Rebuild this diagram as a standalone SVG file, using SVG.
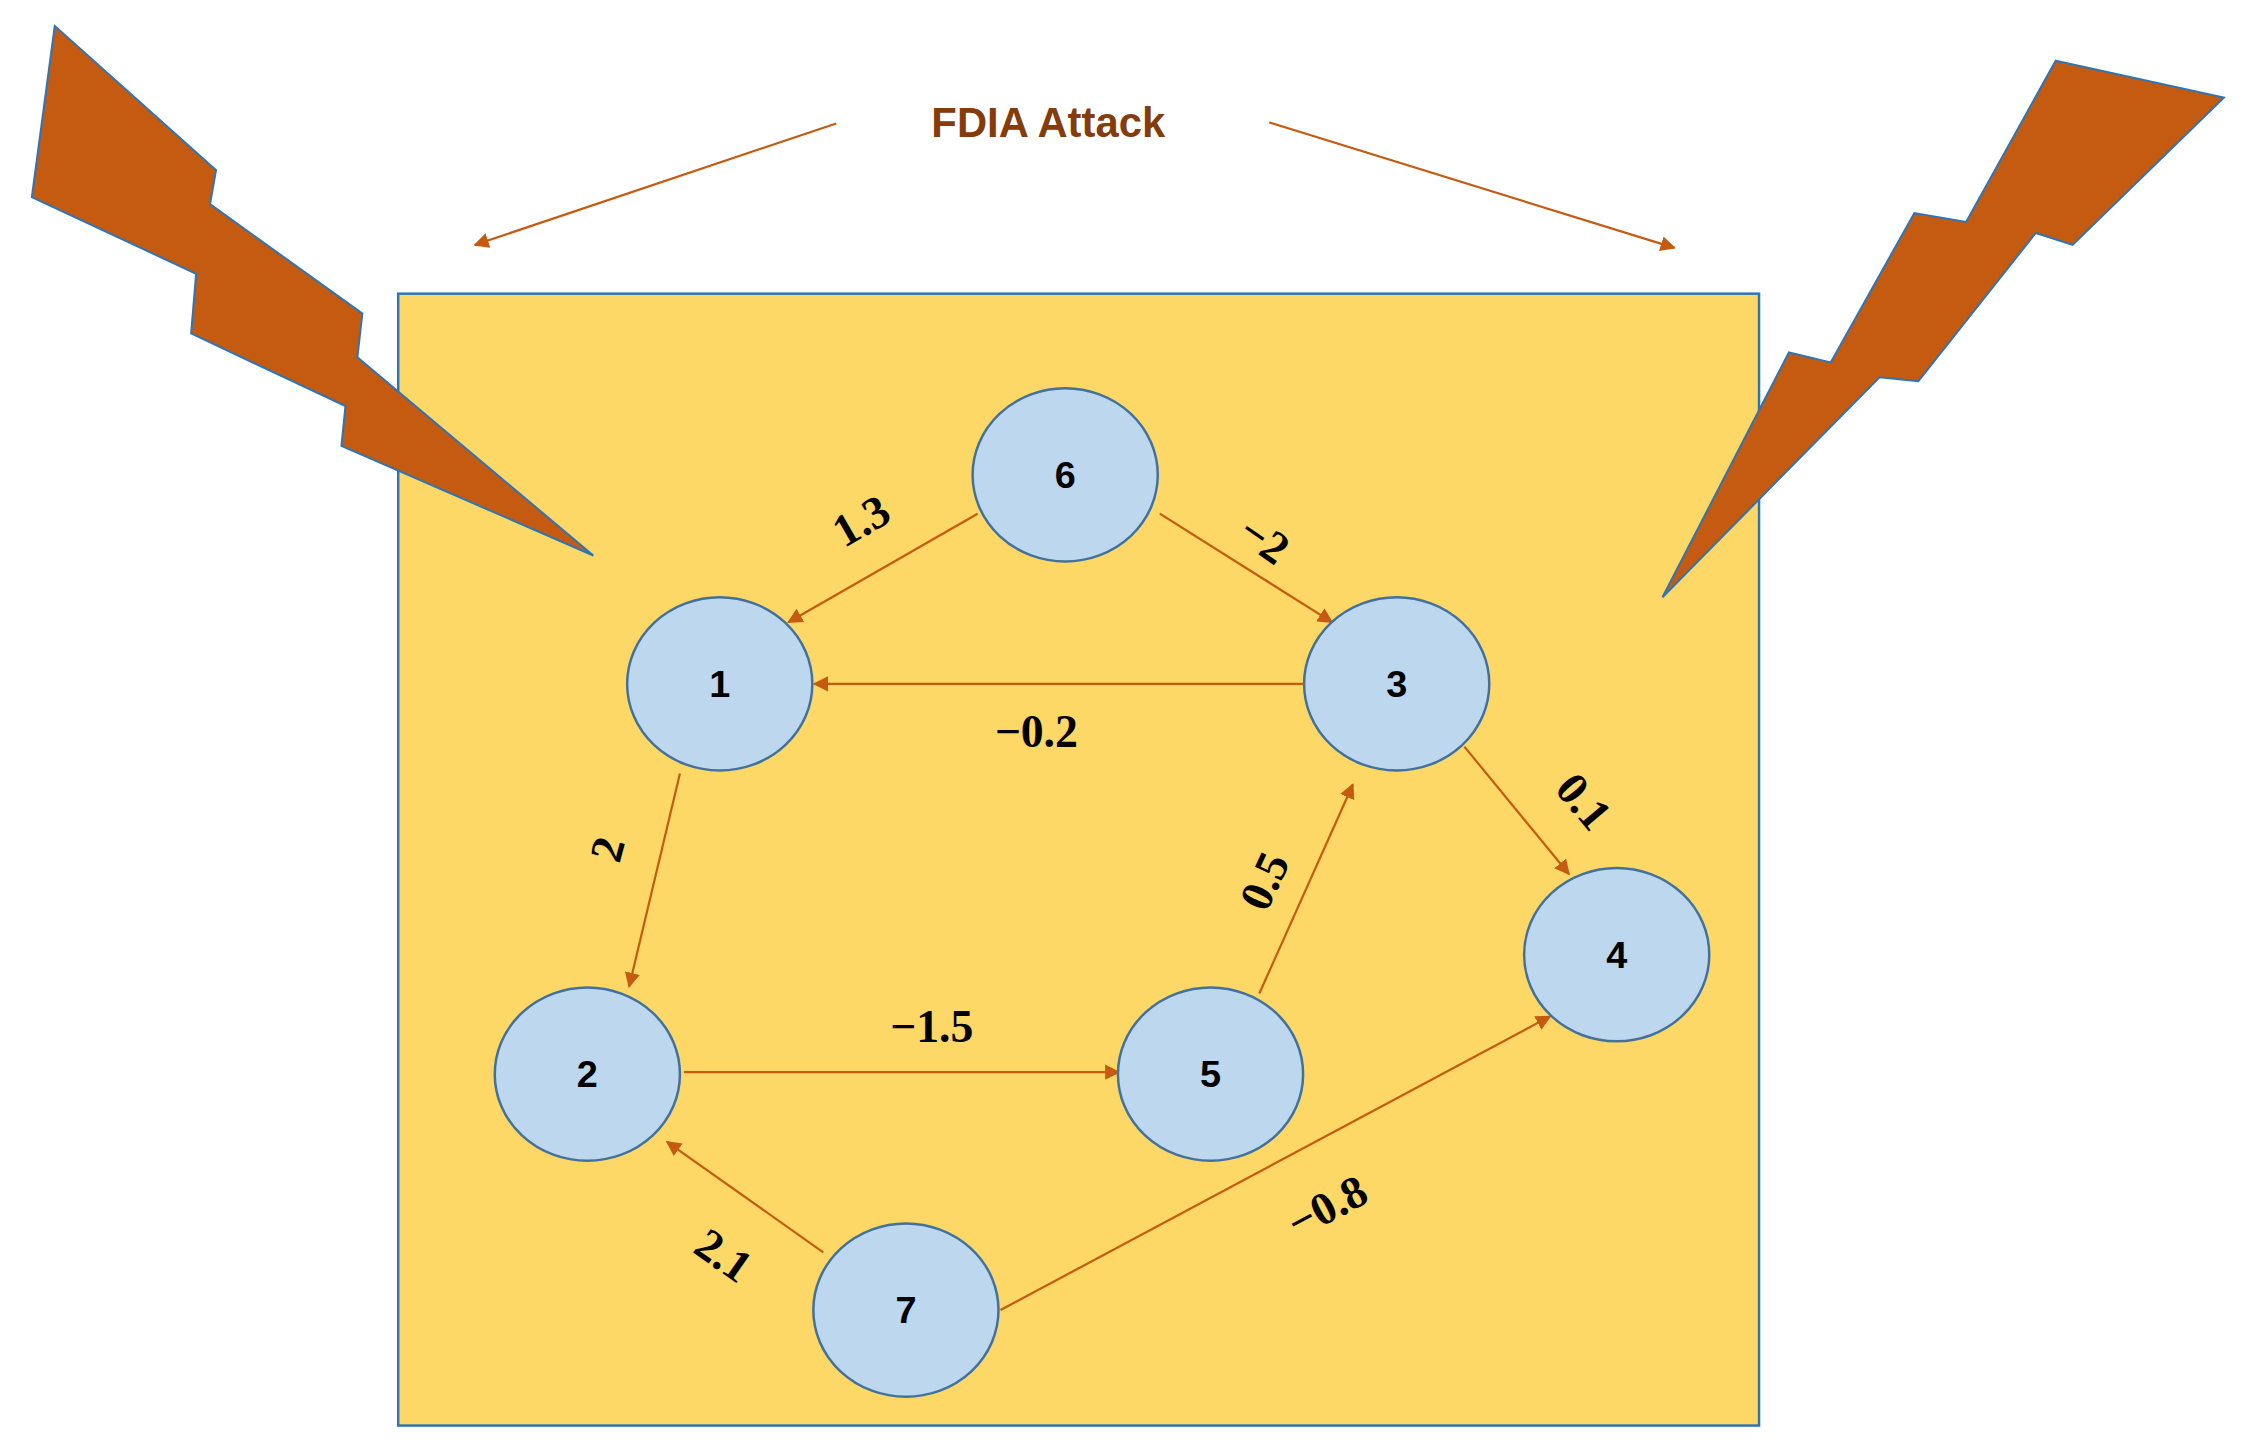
<svg xmlns="http://www.w3.org/2000/svg" width="2256" height="1452" viewBox="0 0 2256 1452">
<style>
.n ellipse{fill:#BDD7EE;stroke:#41719C;stroke-width:2.5}
.n text{font-family:"Liberation Sans",Arial,sans-serif;font-weight:bold;font-size:38px;fill:#000;text-anchor:middle;dominant-baseline:central}
.e line{stroke:#C55A11;stroke-width:2.2;marker-end:url(#ah)}
.w{font-family:"Liberation Serif","DejaVu Serif",serif;font-weight:bold;font-size:46px;fill:#000;text-anchor:middle;dominant-baseline:central}
.bolt{fill:#C55A11;stroke:#2E75B6;stroke-width:2}
</style>
<defs>
<marker id="ah" viewBox="0 0 10 10" refX="9" refY="5" markerWidth="7" markerHeight="7" orient="auto" markerUnits="strokeWidth"><path d="M0,0L10,5L0,10z" fill="#C55A11"/></marker>
</defs>
<rect width="2256" height="1452" fill="#fff"/>
<g transform="scale(0.9955)">
<rect x="400" y="295" width="1367" height="1137" fill="#FDD866" stroke="#2E75B6" stroke-width="2.5"/>
<polygon class="bolt" points="55,26 217,171 211,205 364,315 359,359 596,558 343,448 347,408 192,335 197,275 32,198"/>
<polygon class="bolt" points="2065,61 2234,98 2082,246 2045,234 1927,383 1888,379 1670,600 1797,354 1839,364 1923,214 1975,223"/>
<text x="1053" y="123" font-family="Liberation Sans,Arial,sans-serif" font-weight="bold" font-size="42" fill="#843C0C" text-anchor="middle" dominant-baseline="central">FDIA Attack</text>
<g class="e" id="connectors">
<line x1="840" y1="124" x2="477" y2="246"/>
<line x1="1275" y1="123" x2="1682" y2="249"/>
<line x1="982" y1="516" x2="792" y2="625"/>
<line x1="1165" y1="516" x2="1338" y2="625"/>
<line x1="1310" y1="687" x2="818" y2="687"/>
<line x1="1471" y1="750" x2="1576" y2="878"/>
<line x1="683" y1="777" x2="632" y2="991"/>
<line x1="687" y1="1077" x2="1124" y2="1077"/>
<line x1="1265" y1="998" x2="1359" y2="788"/>
<line x1="827" y1="1258" x2="670" y2="1147"/>
<line x1="1005" y1="1316" x2="1557" y2="1021"/>
</g>
<g class="n" id="node1"><ellipse cx="723" cy="687" rx="93" ry="87"/><text x="723" y="687">1</text></g>
<g class="n" id="node2"><ellipse cx="590" cy="1079" rx="93" ry="87"/><text x="590" y="1079">2</text></g>
<g class="n" id="node3"><ellipse cx="1403" cy="687" rx="93" ry="87"/><text x="1403" y="687">3</text></g>
<g class="n" id="node4"><ellipse cx="1624" cy="959" rx="93" ry="87"/><text x="1624" y="959">4</text></g>
<g class="n" id="node5"><ellipse cx="1216" cy="1079" rx="93" ry="87"/><text x="1216" y="1079">5</text></g>
<g class="n" id="node6"><ellipse cx="1070" cy="477" rx="93" ry="87"/><text x="1070" y="477">6</text></g>
<g class="n" id="node7"><ellipse cx="910" cy="1316" rx="93" ry="87"/><text x="910" y="1316">7</text></g>
<g id="labels">
<text class="w" transform="translate(865,523) rotate(-30)">1.3</text>
<text class="w" transform="translate(1270,542) rotate(35)">−2</text>
<text class="w" x="1041" y="735">−0.2</text>
<text class="w" transform="translate(1591,805) rotate(50)">0.1</text>
<text class="w" transform="translate(610,853) rotate(-75)">2</text>
<text class="w" transform="translate(1270,885) rotate(-65)">0.5</text>
<text class="w" x="936" y="1031">−1.5</text>
<text class="w" transform="translate(727,1261) rotate(35)">2.1</text>
<text class="w" transform="translate(1333,1212) rotate(-28)">−0.8</text>
</g>
</g>
</svg>
